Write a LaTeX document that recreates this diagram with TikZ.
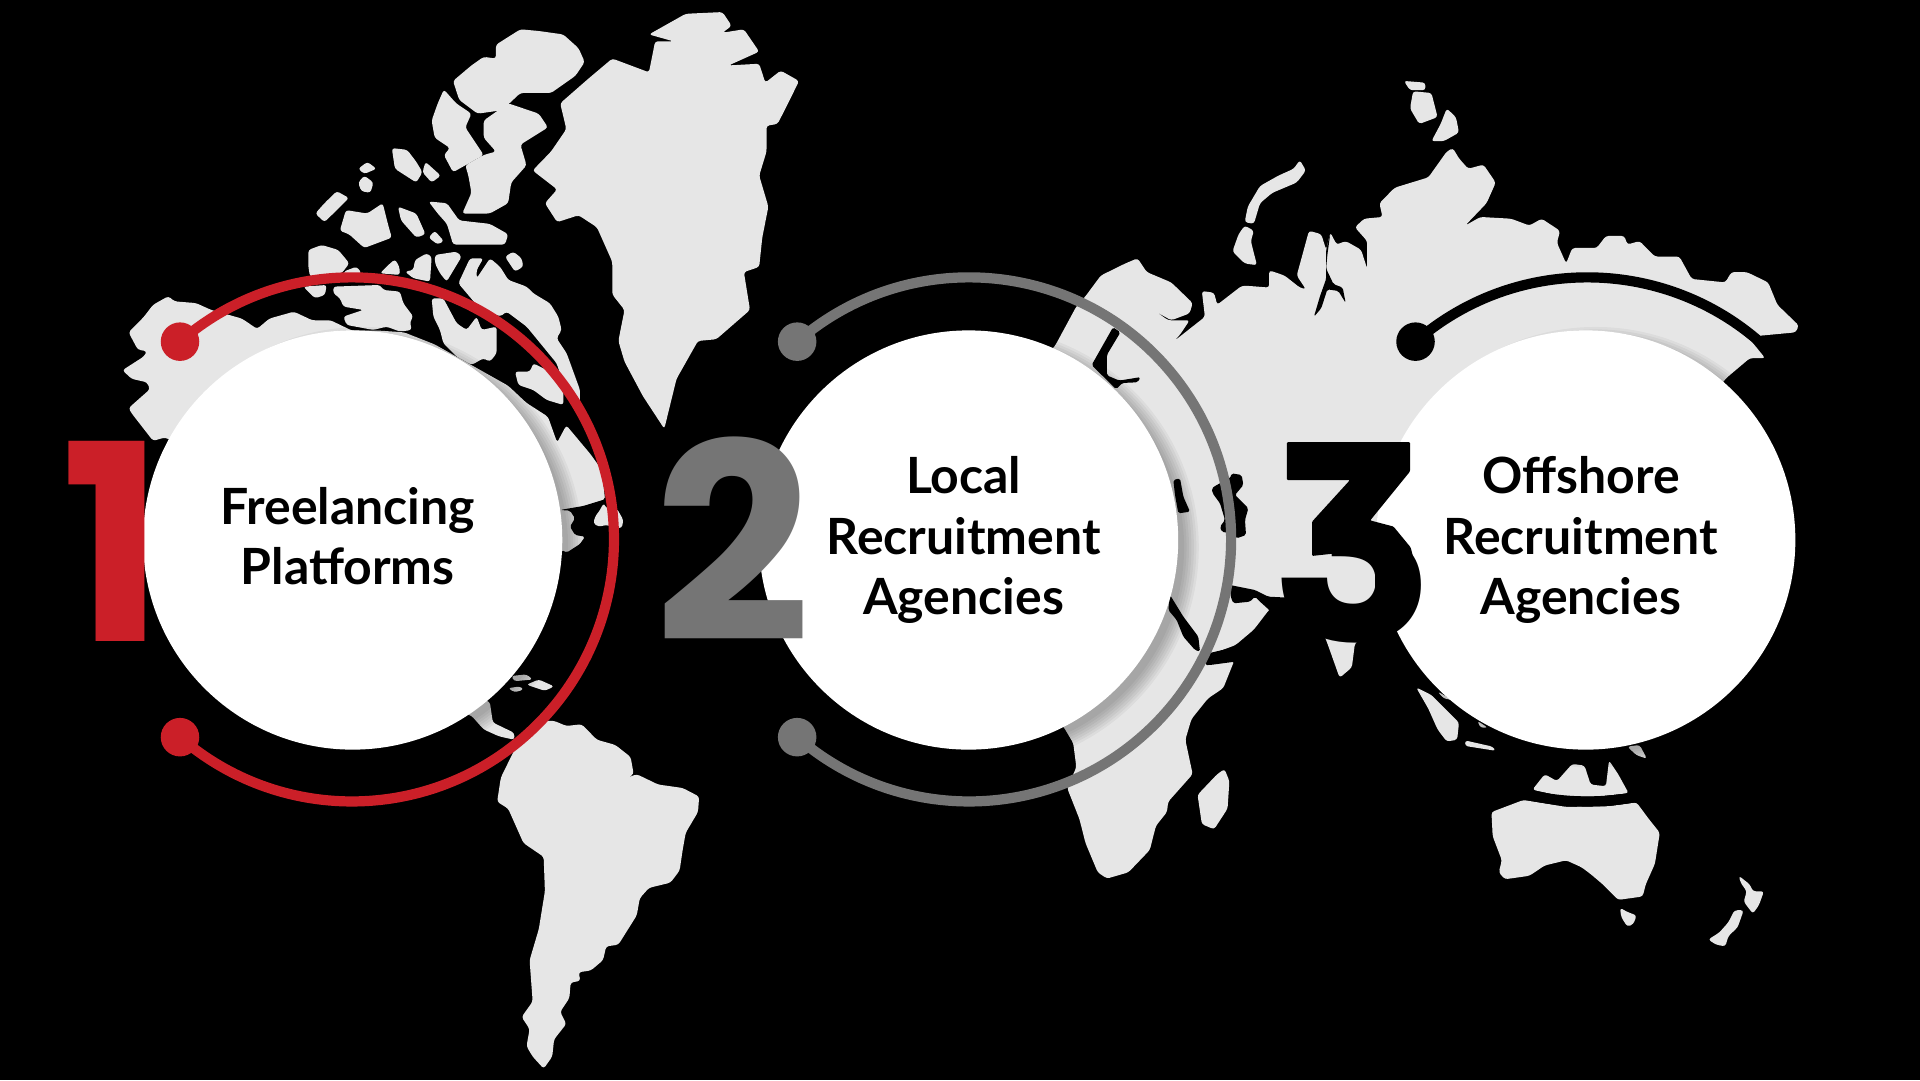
\documentclass[tikz,border=0pt]{standalone}
\usepackage{fontspec}
\usepackage{xcolor}
\setmainfont{Lato}
\newfontfamily\numfont{Poppins}
\usetikzlibrary{positioning}
\definecolor{mapgray}{HTML}{E6E6E6}
\definecolor{ringred}{HTML}{CB1F28}
\definecolor{ringgray}{HTML}{757575}

\begin{document}
\begin{tikzpicture}[
    x=0.012245cm, y=-0.012245cm,
    land/.style={fill=mapgray, rounded corners=0.8pt},
    cut/.style={fill=black, rounded corners=0.5pt},
    zonea/.style={xscale=0.5, yscale=0.28125},
    zoneb/.style={shift={(784,0)}, xscale=0.5, yscale=0.28125},
    zonec/.style={shift={(0,441)}, xscale=0.5, yscale=0.28125},
    zoned/.style={shift={(784,441)}, xscale=0.5, yscale=0.28125},
    zonee/.style={shift={(931,343)}, scale=0.2722},
    zonef/.style={shift={(424.7,359.3)}, scale=0.2722},
    zoneg/.style={shift={(245,187.8)}, scale=0.2722},
    disc/.style={circle, fill=white, minimum size=4.19cm, inner sep=0pt},
    ringdot/.style={circle, minimum size=0.385cm, inner sep=0pt},
    ring/.style={line width=1.02mm},
    bignum/.style={font=\numfont\bfseries\fontsize{78}{78}\selectfont, anchor=base, inner sep=0pt},
    lbl/.style={font=\bfseries\fontsize{14.2}{17.1}\selectfont, align=center, text=black, inner sep=0pt}
]
\fill[black] (0,0) rectangle (1568,882);
\useasboundingbox (0,0) rectangle (1568,882);

% === Map: Greenland and the Arctic islands ===
\begin{scope}[zonea]
\fill[land] (1120,40)--(1180,35)--(1195,75)--(1180,95)--(1215,85)--(1240,150)--(1190,190)--(1240,185)--(1250,240)--(1275,205)--(1305,235)--(1290,290)--(1270,360)--(1252,365)--(1252,440)--(1240,510)--(1255,600)--(1245,690)--(1240,775)--(1215,790)--(1225,900)--(1170,985)--(1140,990)--(1105,1100)--(1085,1245)--(1050,1150)--(1020,1050)--(1010,990)--(1020,900)--(1000,855)--(1000,760)--(975,660)--(945,625)--(910,645)--(890,590)--(910,550)--(870,495)--(900,440)--(925,375)--(915,300)--(960,230)--(1000,170)--(1060,210)--(1070,120)--(1100,120)--(1060,100)--cycle;
\fill[land] (810,130)--(850,85)--(880,90)--(920,100)--(945,140)--(955,180)--(940,220)--(900,270)--(850,270)--(820,320)--(780,330)--(750,290)--(740,235)--(770,190)--(790,165)--(810,170)--cycle;
\fill[land] (725,260)--(745,300)--(770,330)--(760,370)--(790,450)--(740,500)--(725,450)--(735,430)--(710,400)--(705,350)--(715,300)--cycle;
\fill[land] (790,350)--(830,300)--(880,330)--(895,370)--(850,420)--(860,480)--(835,530)--(830,590)--(800,620)--(755,620)--(770,560)--(765,510)--(760,480)--(790,450)--(810,440)--(790,400)--cycle;
\fill[land] (600,470)--(615,490)--(595,505)--(585,490)--cycle;
\fill[land] (595,510)--(610,530)--(605,560)--(590,555)--(585,530)--cycle;
\fill[land] (640,430)--(665,435)--(680,470)--(690,500)--(680,530)--(645,490)--cycle;
\fill[land] (695,470)--(720,510)--(705,530)--(690,500)--cycle;
\fill[land] (550,555)--(570,575)--(550,610)--(530,645)--(515,620)--(530,590)--cycle;
\fill[land] (565,610)--(600,620)--(625,590)--(635,660)--(640,690)--(595,720)--(570,680)--(555,670)--cycle;
\fill[land] (650,600)--(680,620)--(695,680)--(680,690)--(655,640)--cycle;
\fill[land] (700,585)--(730,590)--(750,640)--(800,650)--(830,680)--(825,710)--(740,710)--(730,650)--(715,620)--cycle;
\fill[land] (710,670)--(725,700)--(715,710)--(700,690)--cycle;
% North America
\fill[land] (210,965)--(235,920)--(250,885)--(275,860)--(285,875)--(320,880)--(345,900)--(395,925)--(420,955)--(440,925)--(480,905)--(510,930)--(540,930)--(575,960)--(620,960)--(660,965)--(710,1000)--(760,1050)--(830,1120)--(860,1170)--(895,1210)--(910,1285)--(925,1235)--(965,1320)--(985,1370)--(1000,1460)--(1015,1490)--(1018,1530)--(1005,1568)--(950,1590)--(920,1610)--(600,1700)--(400,1400)--(270,1270)--(250,1280)--(215,1200)--(210,1185)--(245,1130)--(240,1110)--(215,1100)--(200,1075)--(235,1035)--(240,1020)--(225,1015)--cycle;
\end{scope}

% === Map: Canadian islands ===
\begin{scope}[zoneg]
\fill[land] (25,60)--(65,45)--(115,60)--(148,100)--(125,130)--(30,140)--(25,110)--cycle;
\fill[land] (130,125)--(170,110)--(185,130)--(135,135)--cycle;
\fill[land] (10,170)--(80,165)--(75,195)--(45,205)--cycle;
\fill[land] (100,170)--(240,165)--(250,180)--(300,185)--(310,220)--(340,260)--(330,275)--(335,300)--(300,305)--(260,290)--(220,300)--(140,285)--(130,260)--(190,240)--(130,230)--(120,205)--(100,190)--cycle;
\fill[land] (240,130)--(265,105)--(285,88)--(298,110)--(300,135)--cycle;
\fill[land] (315,125)--(340,120)--(345,90)--(380,70)--(395,80)--(390,155)--(340,145)--cycle;
\fill[land] (405,75)--(470,65)--(485,80)--(440,155)--(420,130)--(405,100)--cycle;
\fill[land] (615,80)--(640,65)--(665,85)--(670,110)--(645,125)--cycle;
\fill[land] (475,160)--(510,85)--(550,85)--(530,120)--(530,145)--(570,85)--(600,110)--(625,150)--(680,170)--(700,190)--(750,220)--(775,260)--(785,300)--(770,325)--(800,370)--(840,480)--(840,560)--(800,490)--(770,400)--(680,290)--(620,245)--(600,260)--(530,225)--cycle;
\fill[land] (395,205)--(430,205)--(470,280)--(500,300)--(530,260)--(545,300)--(590,290)--(590,370)--(570,395)--(550,385)--(515,405)--(470,380)--(430,340)--(420,300)--(400,260)--cycle;
\fill[land] (645,425)--(690,425)--(700,400)--(740,420)--(790,480)--(790,525)--(740,510)--(700,480)--(655,465)--cycle;
\end{scope}

% === Map: Gulf of Mexico and Florida ===
\begin{scope}[zonef]
\fill[cut] (255,178)--(190,198)--(120,210)--(150,212)--(165,235)--(150,260)--(165,285)--(195,290)--(180,312)--(140,338)--(125,330)--(120,380)--(300,380)--(360,300)--(360,130)--(250,130)--cycle;
\fill[land] (225,230)--(240,210)--(250,190)--(255,200)--(270,210)--(290,205)--(310,240)--(305,265)--(285,262)--(260,255)--(235,260)--(220,250)--cycle;
\end{scope}

% === Map: South America and Central America ===
\begin{scope}[zonec]
\fill[land] (880,525)--(905,525)--(925,540)--(950,535)--(975,580)--(1005,595)--(1030,630)--(1035,680)--(1025,690)--(1040,680)--(1075,710)--(1115,720)--(1142,745)--(1140,790)--(1120,850)--(1115,900)--(1110,960)--(1095,995)--(1060,1010)--(1045,1040)--(1040,1090)--(1010,1175)--(990,1180)--(985,1220)--(965,1250)--(945,1255)--(948,1280)--(932,1285)--(930,1330)--(915,1370)--(925,1405)--(905,1450)--(902,1500)--(888,1535)--(870,1500)--(860,1470)--(865,1420)--(852,1385)--(870,1340)--(865,1220)--(880,1130)--(890,1020)--(888,920)--(855,880)--(830,780)--(812,760)--(818,690)--(840,610)--cycle;
\fill[land] (700,400)--(800,470)--(805,530)--(840,560)--(840,580)--(815,570)--(790,550)--(770,510)--(700,470)--cycle;
\fill[land] (835,395)--(860,390)--(870,405)--(840,410)--cycle;
\fill[land] (860,420)--(880,405)--(905,425)--(890,438)--cycle;
\fill[land] (830,430)--(850,425)--(855,435)--(840,442)--cycle;
\end{scope}

% === Map: Eurasia and Africa ===
\begin{scope}[zoneb]
\fill[land] (205,860)--(230,800)--(270,765)--(290,750)--(305,790)--(345,820)--(380,880)--(375,910)--(345,930)--(320,905)--(340,930)--(375,930)--(360,970)--(350,990)--(400,920)--(395,845)--(415,850)--(420,885)--(460,830)--(470,830)--(505,835)--(505,785)--(530,800)--(555,835)--(565,840)--(550,800)--(570,670)--(590,680)--(598,725)--(605,675)--(615,710)--(630,700)--(655,725)--(665,780)--(665,700)--(645,660)--(660,635)--(690,630)--(685,590)--(710,545)--(765,515)--(795,440)--(805,430)--(815,460)--(830,490)--(855,478)--(875,530)--(860,590)--(825,655)--(850,630)--(900,635)--(930,655)--(950,635)--(980,670)--(975,705)--(990,765)--(1000,720)--(1040,720)--(1055,685)--(1085,685)--(1090,710)--(1110,700)--(1135,745)--(1175,745)--(1195,810)--(1250,820)--(1260,790)--(1285,790)--(1320,820)--(1335,885)--(1370,945)--(1365,965)--(1305,975)--(1290,985)--(1315,1040)--(1290,1040)--(1250,1100)--(1100,1500)--(760,1700)--(720,1768)--(645,1868)--(640,1938)--(620,1968)--(610,1918)--(600,1868)--(585,1800)--(545,1693)--(540,1733)--(505,1770)--(480,1828)--(450,1873)--(405,1903)--(400,1925)--(448,1918)--(430,1998)--(405,2028)--(378,2088)--(368,2148)--(380,2248)--(340,2328)--(338,2358)--(320,2398)--(310,2468)--(275,2533)--(240,2551)--(225,2533)--(205,2448)--(195,2378)--(175,2288)--(190,2228)--(185,2158)--(170,2113)--(60,1900)--(0,1300)--(155,1005)--(190,890)--cycle;
\fill[cut] (250,950)--(262,965)--(240,1030)--(240,1090)--(260,1105)--(295,1095)--(290,1110)--(265,1112)--(255,1130)--(215,1060)--cycle;
\fill[cut] (598,725)--(605,675)--(600,740)--(598,780)--(610,825)--(625,835)--(630,880)--(618,845)--(600,840)--(590,895)--(578,920)--(588,860)--(598,810)--cycle;
% Arctic Russia
\fill[land] (555,465)--(565,495)--(550,530)--(510,560)--(490,590)--(480,650)--(465,645)--(470,600)--(490,540)--(520,510)--(545,490)--cycle;
\fill[land] (465,655)--(480,670)--(475,700)--(485,770)--(465,765)--(445,730)--(455,680)--cycle;
\fill[land] (725,235)--(760,240)--(760,262)--(735,262)--cycle;
\fill[land] (740,265)--(770,270)--(780,340)--(750,360)--(735,315)--cycle;
\fill[land] (795,315)--(810,340)--(815,385)--(790,410)--(770,410)--(785,360)--cycle;
\end{scope}

% === Map: seas around Arabia ===
\begin{scope}[zonee]
\fill[cut] (270,495)--(345,510)--(385,530)--(445,533)--(465,495)--(500,560)--(460,700)--(300,780)--(285,725)--(210,735)--(195,735)--(205,700)--(290,680)--(340,640)--(375,595)--(390,572)--(360,545)--(345,530)--(330,545)--(280,550)--(272,530)--cycle;
\fill[cut] (90,525)--(130,590)--(175,650)--(180,695)--(165,690)--(130,650)--(110,600)--(85,570)--cycle;
\fill[cut] (100,180)--(120,175)--(130,230)--(150,275)--(115,280)--(105,225)--cycle;
\fill[cut] (215,205)--(230,195)--(270,175)--(275,160)--(305,165)--(310,195)--(285,225)--(325,265)--(315,300)--(318,345)--(290,355)--(270,340)--(245,335)--(240,320)--(255,300)--(240,250)--(218,220)--cycle;
\end{scope}

% === Map: Madagascar, Indonesia, Australia ===
\begin{scope}[zoned]
\fill[land] (432,665)--(440,700)--(437,780)--(415,840)--(395,825)--(388,740)--(420,680)--cycle;
\fill[land] (745,428)--(770,450)--(815,530)--(812,580)--(795,585)--(780,550)--(765,490)--cycle;
\fill[land] (825,582)--(870,600)--(875,612)--(825,598)--cycle;
\fill[land] (780,440)--(805,465)--(790,460)--cycle;
\fill[land] (845,525)--(862,545)--(850,545)--cycle;
\fill[land] (1090,600)--(1110,595)--(1122,635)--(1105,625)--cycle;
\fill[land] (935,725)--(955,680)--(975,700)--(1000,650)--(1020,655)--(1030,710)--(1055,715)--(1060,640)--(1075,680)--(1092,735)--(1040,745)--(985,745)--cycle;
\fill[land] (920,755)--(990,775)--(1060,773)--(1105,762)--(1125,810)--(1143,850)--(1135,940)--(1120,1000)--(1115,1035)--(1075,1045)--(1050,1000)--(1030,970)--(1015,950)--(990,930)--(955,945)--(930,975)--(890,985)--(880,965)--(885,930)--(870,860)--(868,790)--cycle;
\fill[land] (1078,1068)--(1090,1080)--(1105,1090)--(1100,1115)--(1090,1123)--(1080,1095)--cycle;
\fill[land] (1272,975)--(1290,1000)--(1295,1020)--(1313,1020)--(1305,1060)--(1295,1085)--(1280,1050)--(1285,1020)--(1275,995)--cycle;
\fill[land] (1265,1075)--(1280,1075)--(1270,1125)--(1255,1150)--(1250,1180)--(1235,1175)--(1222,1160)--(1240,1140)--(1255,1110)--cycle;
\end{scope}

% === Soft shadows under the discs ===
\foreach \cx in {288,791,1295}
    \foreach \rr in {168,170,172,174,176,178,180}
        \fill[black, opacity=0.045] (\cx+8,441+6) circle [radius=\rr];

% === Discs ===
\node[disc] (discone) at (288,441) {};
\node[disc] (disctwo) at (791,441) {};
\node[disc] (discthree) at (1295,441) {};

% === Rings with their end dots ===
\node[ringdot, fill=ringred] (onetop) at (147,279) {};
\node[ringdot, fill=ringred] (onebot) at (147,602) {};
\node[ringdot, fill=ringgray] (twotop) at (651,279) {};
\node[ringdot, fill=ringgray] (twobot) at (651,602) {};
\node[ringdot, fill=black] (threetop) at (1156,279) {};
\node[ringdot, fill=black] (threebot) at (1156,602) {};

\draw[ring, draw=ringred] (onetop.center) arc[start angle=-131, end angle=131, radius=214];
\draw[ring, draw=ringgray] (twotop.center) arc[start angle=-131, end angle=131, radius=214];
\draw[ring, draw=black] (threetop.center) arc[start angle=-131, end angle=131, radius=214];

% === Big numerals ===
\node[bignum, text=ringred] (numone) at (92,524) {1};
\node[bignum, text=ringgray] (numtwo) at (598.5,524) {2};
\begin{scope}
\clip (1030,452) rectangle (1180,540);
\node[bignum, text=black] (numthree) at (1105,524) {3};
\end{scope}
\fill[black, rounded corners=0.3pt] (1051,361)--(1151.5,361)--(1151.5,385)--(1119,425)--(1138,430)--(1152,447)--(1159,474)--(1152,500)--(1123,480)--(1123,462)--(1105,452)--(1090,452)--(1071.5,454)--(1071.5,426)--(1102.5,392)--(1051,392)--cycle;

% === Labels ===
\node[lbl] (txtone) at (284,438) {Freelancing\\Platforms};
\node[lbl] (txttwo) at (787,441) {Local\\Recruitment\\Agencies};
\node[lbl] (txtthree) at (1291,441) {Offshore\\Recruitment\\Agencies};

\end{tikzpicture}
\end{document}
